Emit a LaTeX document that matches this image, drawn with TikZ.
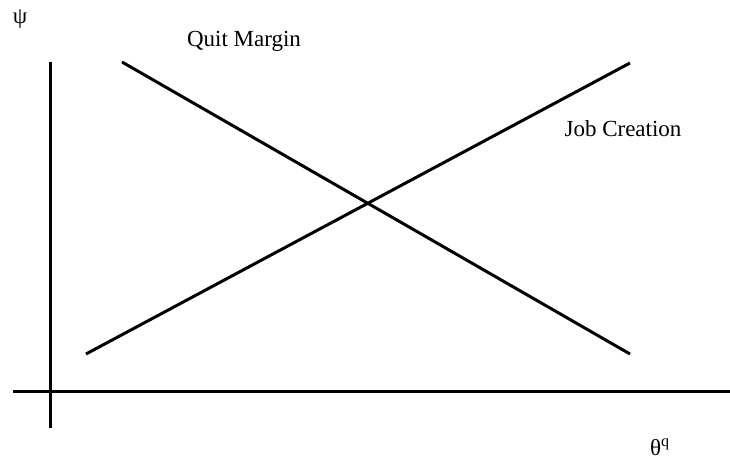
\documentclass[tikz,border=0pt]{standalone}
\usepackage{fontspec}
\setmainfont{Liberation Serif}
\begin{document}
\begin{tikzpicture}[x=1pt,y=-1pt,
  curve/.style={line width=3pt},
  axis/.style={line width=3pt},
  lbl/.style={inner sep=0pt,font=\fontsize{23}{26}\selectfont}]
\useasboundingbox (0,0) rectangle (730,465);
\coordinate (vtop) at (50,62);
\coordinate (vbot) at (50,428);
\coordinate (hleft) at (13,391);
\coordinate (hright) at (730,391);
\coordinate (qm1) at (122,62);
\coordinate (qm2) at (630,354);
\coordinate (jc1) at (86,354);
\coordinate (jc2) at (630,63);
\draw[axis] (vtop) -- (vbot);
\draw[axis] (hleft) -- (hright);
\draw[curve] (qm1) -- (qm2);
\draw[curve] (jc1) -- (jc2);
\node[lbl] (psi) at (20,19) {ψ};
\node[lbl] (quit) at (244,41) {Quit Margin};
\node[lbl] (job) at (623,129) {Job Creation};
\node[lbl] (theta) at (660,447) {θ\textsuperscript{q}};
\end{tikzpicture}
\end{document}
